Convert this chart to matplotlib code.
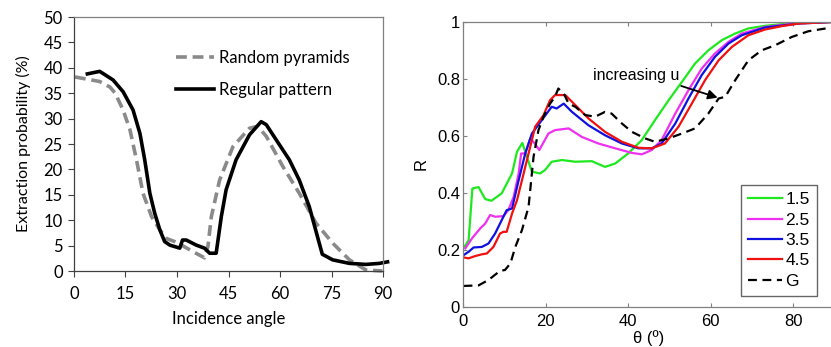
import numpy as np
import matplotlib.pyplot as plt

# --- panneau gauche : probabilite d'extraction ---
x_rand = [0.3, 7.5, 10.5, 12, 14.3, 16.3, 18.2, 20.1, 22.6, 25, 26.9, 29.3, 31.3, 34.7, 38, 39, 40,
          42.4, 46.3, 51.1, 53.5, 56, 60.8, 65.6, 70.5, 75.3, 80.2, 85, 89.8]
y_rand = [38.2, 37.3, 36.2, 35, 31.7, 27.8, 21.9, 15.3, 10.7, 8.1, 6.4, 5.8, 5.1, 3.8, 2.6, 4.8, 10.7,
          17.9, 24.5, 28.1, 28.5, 26.5, 20.6, 15.3, 9.4, 5.5, 2.2, 0.2, 0]

x_reg = [3.9, 7.5, 11.4, 14.3, 17.2, 19.2, 20.6, 22.1, 23.5, 25, 26.4, 27.9, 30.8, 31.6, 32.7, 35.6,
         38, 39.5, 41.4, 42.9, 44.3, 47.2, 51.1, 54.5, 56, 58.9, 62.7, 65.6, 68.5, 71, 72.3, 75.3,
         80.2, 85, 88.9, 91.3]
y_reg = [38.8, 39.3, 37.6, 35.3, 31.7, 27.1, 21.9, 15.3, 11.4, 8.1, 5.8, 5.1, 4.5, 6.1, 6.1, 5.1,
         4.5, 3.5, 3.5, 10.7, 16, 21.9, 26.8, 29.4, 28.8, 25.8, 21.9, 17.9, 12.7, 6.5, 3.3, 2.2,
         1.5, 1.3, 1.5, 1.8]

# --- panneau droit : R en fonction de theta ---
th_15 = [0.16, 1.4, 2.3, 3.8, 5.4, 6.9, 9.4, 11.9, 13.1, 14.4, 15.5, 16.7, 18.7, 19.9, 21.5, 24, 27.2,
         31.2, 34.4, 36.9, 40, 43.3, 46.5, 49.8, 53, 56.2, 59.4, 62.7, 65.9, 69.1, 73.1, 77.2, 81.2, 90]
R_15 = [0.205, 0.234, 0.415, 0.42, 0.378, 0.372, 0.398, 0.468, 0.544, 0.575, 0.526, 0.474, 0.468, 0.48,
        0.509, 0.515, 0.509, 0.511, 0.491, 0.503, 0.538, 0.585, 0.655, 0.725, 0.789, 0.854, 0.9, 0.936,
        0.959, 0.977, 0.986, 0.992, 0.996, 1.0]

th_25 = [0.6, 2.2, 4.2, 5.4, 6.6, 7.8, 9.8, 11, 12.3, 13.5, 14.1, 15.1, 16.3, 17.3, 18.5, 20.7, 22.3,
         25.6, 28.8, 32.8, 36.9, 40.9, 43.3, 45.7, 48.1, 51.4, 54.6, 57.8, 61, 64.3, 67.5, 73.1, 81.2, 90]
R_25 = [0.205, 0.24, 0.275, 0.292, 0.322, 0.316, 0.318, 0.339, 0.386, 0.468, 0.538, 0.538, 0.59, 0.575,
        0.55, 0.608, 0.62, 0.626, 0.596, 0.573, 0.556, 0.54, 0.535, 0.55, 0.585, 0.678, 0.76, 0.836,
        0.889, 0.93, 0.959, 0.982, 0.996, 1.0]

th_35 = [0.16, 1.4, 2.6, 4.6, 6.2, 7.8, 9.4, 10.6, 11.9, 13.5, 15.1, 16.7, 19.1, 21.5, 22.7, 24.4, 26.4,
         30.4, 34.4, 38.5, 42.5, 45.7, 48.1, 51.4, 54.6, 57.8, 61, 64.3, 67.5, 73.1, 81.2, 90]
R_35 = [0.181, 0.193, 0.208, 0.21, 0.222, 0.257, 0.304, 0.339, 0.345, 0.444, 0.538, 0.608, 0.655, 0.702,
        0.696, 0.713, 0.684, 0.637, 0.602, 0.573, 0.556, 0.556, 0.573, 0.643, 0.731, 0.813, 0.877, 0.924,
        0.953, 0.98, 0.994, 1.0]

th_45 = [0.16, 1.4, 3, 4.6, 5.8, 7.4, 9, 9.8, 10.6, 11.9, 13.1, 14.3, 15.9, 17.5, 19.5, 21.1, 22.3, 24.8,
         27.2, 30.4, 34.4, 38.5, 42.5, 45.7, 48.9, 52.2, 55.4, 58.6, 61.9, 65.1, 69.1, 73.1, 77.2, 81.2, 90]
R_45 = [0.173, 0.17, 0.178, 0.184, 0.187, 0.21, 0.257, 0.263, 0.263, 0.327, 0.374, 0.444, 0.538, 0.632,
        0.672, 0.725, 0.743, 0.743, 0.708, 0.661, 0.614, 0.579, 0.558, 0.556, 0.573, 0.632, 0.713, 0.795,
        0.865, 0.912, 0.953, 0.973, 0.985, 0.994, 1.0]

th_G = [0.16, 3.8, 6.2, 9, 10.2, 11.5, 12.7, 14.3, 15.9, 17.1, 18.3, 19.5, 21.1, 22.3, 23.1, 24.4, 25.6,
        27.2, 29.6, 32, 34.4, 36, 38.5, 40.9, 44.1, 46.5, 49.8, 53, 56.2, 59.4, 61.9, 63.5, 65.9, 69.1,
        72.3, 75.6, 79.6, 83.6, 90]
R_G = [0.073, 0.075, 0.094, 0.126, 0.129, 0.152, 0.21, 0.269, 0.351, 0.526, 0.62, 0.667, 0.713, 0.737,
       0.766, 0.749, 0.713, 0.702, 0.673, 0.667, 0.684, 0.678, 0.643, 0.614, 0.591, 0.579, 0.591, 0.608,
       0.626, 0.678, 0.731, 0.737, 0.795, 0.865, 0.9, 0.918, 0.947, 0.967, 0.982]

fig = plt.figure(figsize=(8.31, 3.47), dpi=100)

# panneau gauche
ax1 = fig.add_axes([0.089, 0.219, 0.372, 0.732])
ax1.plot(x_rand, y_rand, color="#8a8a8a", lw=2.6, ls=(0, (3, 1.6)), label="Random pyramids",
         clip_on=False)
ax1.plot(x_reg, y_reg, color="black", lw=2.6, label="Regular pattern", clip_on=False)
ax1.set_xlim(0, 90)
ax1.set_ylim(0, 50)
ax1.set_xticks(range(0, 91, 15))
ax1.set_yticks(range(0, 51, 5))
for s in ax1.spines.values():
    s.set_color("#808080")
    s.set_linewidth(0.9)
ax1.spines["left"].set_color("#404040")
ax1.spines["bottom"].set_color("#404040")
ax1.tick_params(direction="out", length=4, color="#404040", labelsize=12)
ax1.tick_params(axis="x", pad=7)
ax1.tick_params(axis="y", pad=4)
for lab in ax1.get_xticklabels() + ax1.get_yticklabels():
    lab.set_family("Lato")
ax1.set_xlabel("Incidence angle", fontsize=12, family="Lato", labelpad=6)
ax1.set_ylabel("Extraction probability (%)", fontsize=11.5, family="Lato", labelpad=9)
leg1 = ax1.legend(loc="upper left", bbox_to_anchor=(0.28, 0.93), frameon=False,
                  prop={"family": "Lato", "size": 12}, handlelength=2.3, handletextpad=0.3,
                  labelspacing=0.95)

# panneau droit
ax2 = fig.add_axes([0.557, 0.116, 0.4475, 0.821])
ax2.plot(th_15, R_15, color="#1ee81e", lw=1.6, label="1.5")
ax2.plot(th_25, R_25, color="#f030f0", lw=1.6, label="2.5")
ax2.plot(th_35, R_35, color="#1010e0", lw=1.6, label="3.5")
ax2.plot(th_45, R_45, color="#f01010", lw=1.6, label="4.5")
ax2.plot(th_G, R_G, color="black", lw=1.6, ls=(0, (4, 2.5)), label="G")
ax2.set_xlim(0, 90)
ax2.set_ylim(0, 1)
ax2.set_xticks([0, 20, 40, 60, 80])
ax2.set_yticks([0, 0.2, 0.4, 0.6, 0.8, 1])
ax2.set_yticklabels(["0", "0.2", "0.4", "0.6", "0.8", "1"])
for s in ax2.spines.values():
    s.set_color("#808080")
    s.set_linewidth(0.9)
ax2.tick_params(direction="in", length=3, color="#808080", top=True, right=True,
                labelsize=12, pad=2)
ax2.tick_params(axis="x", pad=5)
for lab in ax2.get_xticklabels() + ax2.get_yticklabels():
    lab.set_family("Liberation Sans")
ax2.set_xlabel("θ (º)", fontsize=12, family="Liberation Sans", labelpad=1)
ax2.set_ylabel("R", fontsize=12, family="Liberation Sans", labelpad=6)
ax2.annotate("", xy=(62.3, 0.731), xytext=(52.2, 0.778),
             arrowprops=dict(arrowstyle="-|>", color="black", lw=1.3, mutation_scale=14))
ax2.text(31.6, 0.813, "increasing u", fontsize=11.5, family="Liberation Sans", va="center")
leg2 = ax2.legend(loc="lower right", bbox_to_anchor=(0.952, 0.039), borderaxespad=0,
                  fancybox=False, edgecolor="#404040",
                  prop={"family": "Liberation Sans", "size": 12.5},
                  handlelength=1.95, handletextpad=0.2, labelspacing=0.3, borderpad=0.4)
leg2.get_frame().set_linewidth(1.0)

fig.savefig("out.png", dpi=100)
